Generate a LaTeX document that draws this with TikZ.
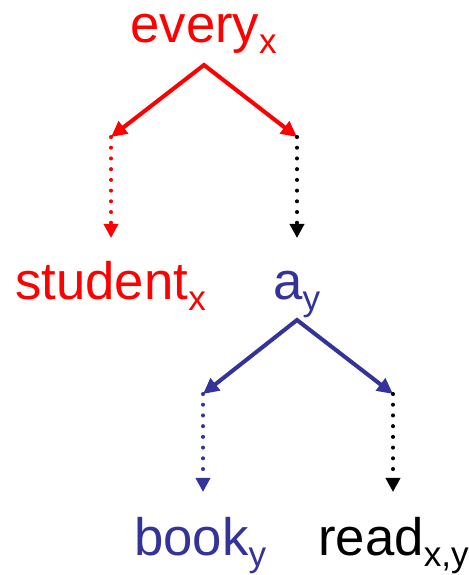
\documentclass[tikz,border=0pt]{standalone}
\usepackage{fontspec}
\setmainfont{Liberation Sans}
\usetikzlibrary{arrows.meta}

\definecolor{treered}{RGB}{255,0,0}
\definecolor{treeblue}{RGB}{51,51,153}
\newcommand{\varidx}[1]{\raisebox{-6.5pt}{\fontsize{20}{20}\selectfont #1}}

\begin{document}
\begin{tikzpicture}[
        x=0.02cm,
        y=-0.02cm,
        word/.style={
            anchor=base west,
            inner sep=0pt,
            font=\fontsize{30}{30}\selectfont
        },
        branch/.style={
            {Triangle[length=9pt,width=8.5pt]}-{Triangle[length=9pt,width=8.5pt]},
            line width=2.3pt
        },
        scopeline/.style={
            -{Triangle[length=8pt,width=8pt]},
            line width=2.3pt,
            line cap=round,
            dash pattern=on 0pt off 6.1pt
        }
        ]
        \useasboundingbox (0,0) rectangle (468,575);

        % Words of the tree
        \node[word, text=treered] (every) at (130,42) {every\varidx{x}};
        \node[word, text=treered] (student) at (15,299) {student\varidx{x}};
        \node[word, text=treeblue] (a) at (273,299) {a\varidx{y}};
        \node[word, text=treeblue] (book) at (134,555) {book\varidx{y}};
        \node[word] (read) at (318,555) {read\varidx{x,y}};

        % Branch points
        \coordinate (everysplit) at (204,65);
        \coordinate (restrictor1) at (111,137);
        \coordinate (scope1) at (297,137);
        \coordinate (restrictor1end) at (111,238);
        \coordinate (scope1end) at (297,238);

        \coordinate (asplit) at (297,320);
        \coordinate (restrictor2) at (203,394);
        \coordinate (scope2) at (393,394);
        \coordinate (restrictor2end) at (203,492);
        \coordinate (scope2end) at (393,492);

        % every
        \draw[branch, treered] (restrictor1) -- (everysplit) -- (scope1);
        \draw[scopeline, treered] (restrictor1) -- (restrictor1end);
        \draw[scopeline] (scope1) -- (scope1end);

        % a
        \draw[branch, treeblue] (restrictor2) -- (asplit) -- (scope2);
        \draw[scopeline, treeblue] (restrictor2) -- (restrictor2end);
        \draw[scopeline] (scope2) -- (scope2end);

    \end{tikzpicture}
\end{document}
